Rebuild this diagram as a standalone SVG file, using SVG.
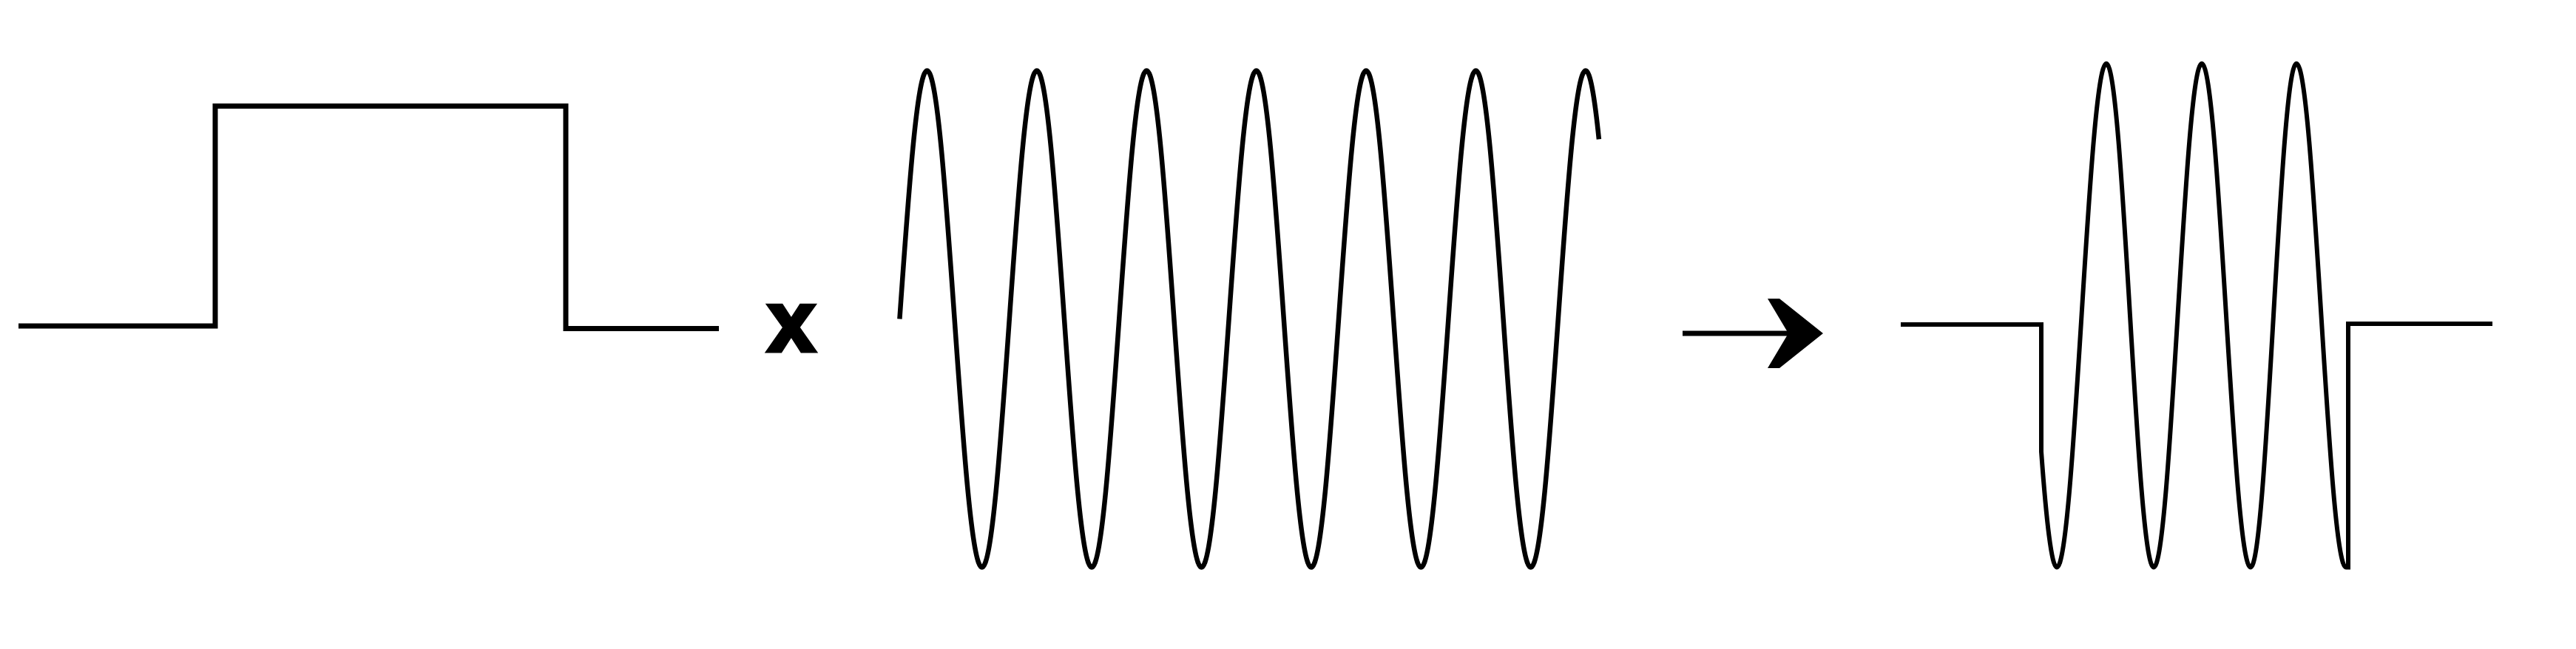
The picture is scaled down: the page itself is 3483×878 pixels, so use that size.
<svg xmlns="http://www.w3.org/2000/svg" width="3483" height="878" viewBox="0 0 3483 878">
  <style>
    .wave { fill: none; stroke: #000; stroke-linecap: butt; stroke-linejoin: miter; }
    .op { font-family: "Liberation Sans", Arial, sans-serif; font-weight: bold; fill: #000; stroke: #000; stroke-width: 5; stroke-linejoin: miter; }
  </style>
  <rect width="3483" height="878" fill="#fff"/>

  <g id="pulse">
    <path class="wave" stroke-width="7" d="M25,441 H291 V143.5 H765 V444.5 H972"/>
  </g>

  <g id="times">
    <text class="op" x="1070" y="474.5" font-size="116" text-anchor="middle">x</text>
  </g>

  <g id="carrier">
    <path class="wave" stroke-width="6.5" d="M1216.4,431.5
      c12.10,-172.1 23.67,-336 37.1,-336 c13.43,0 25.00,163.9 37.1,336 c12.10,172.1 23.67,336 37.1,336 c13.43,0 25.00,-163.9 37.1,-336
      c12.10,-172.1 23.67,-336 37.1,-336 c13.43,0 25.00,163.9 37.1,336 c12.10,172.1 23.67,336 37.1,336 c13.43,0 25.00,-163.9 37.1,-336
      c12.10,-172.1 23.67,-336 37.1,-336 c13.43,0 25.00,163.9 37.1,336 c12.10,172.1 23.67,336 37.1,336 c13.43,0 25.00,-163.9 37.1,-336
      c12.10,-172.1 23.67,-336 37.1,-336 c13.43,0 25.00,163.9 37.1,336 c12.10,172.1 23.67,336 37.1,336 c13.43,0 25.00,-163.9 37.1,-336
      c12.10,-172.1 23.67,-336 37.1,-336 c13.43,0 25.00,163.9 37.1,336 c12.10,172.1 23.67,336 37.1,336 c13.43,0 25.00,-163.9 37.1,-336
      c12.10,-172.1 23.67,-336 37.1,-336 c13.43,0 25.00,163.9 37.1,336 c12.10,172.1 23.67,336 37.1,336 c13.43,0 25.00,-163.9 37.1,-336
      c12.10,-172.1 23.67,-336 37.1,-336
      C2149.9,95.5 2155.9,129.5 2161.9,188.4"/>
  </g>

  <g id="connectors">
    <line x1="2275" y1="451" x2="2425" y2="451" stroke="#000" stroke-width="7"/>
    <polygon points="2390,404 2406,404 2465,451 2406,498 2390,498 2418,451" fill="#000"/>
  </g>

  <g id="result">
    <path class="wave" stroke-width="6" d="M2570,439 H2760 V611 C2767,706.3 2774,767.5 2781,767.5
      c12.12,0 22.58,-166.2 33.5,-340.75 c10.92,-174.6 21.38,-340.75 33.5,-340.75
      c11.58,0 21.56,166.2 32,340.75 c10.44,174.6 20.42,340.75 32,340.75
      c11.76,0 21.90,-166.2 32.5,-340.75 c10.60,-174.6 20.74,-340.75 32.5,-340.75
      c11.94,0 22.24,166.2 33,340.75 c10.76,174.6 21.06,340.75 33,340.75
      c11.22,0 20.89,-166.2 31,-340.75 c10.11,-174.6 19.78,-340.75 31,-340.75
      c12.12,0 22.58,166.2 33.5,340.75 c10.92,174.6 21.38,340.75 33.5,340.75
      L3175,767.5 V438 H3370"/>
  </g>
</svg>
